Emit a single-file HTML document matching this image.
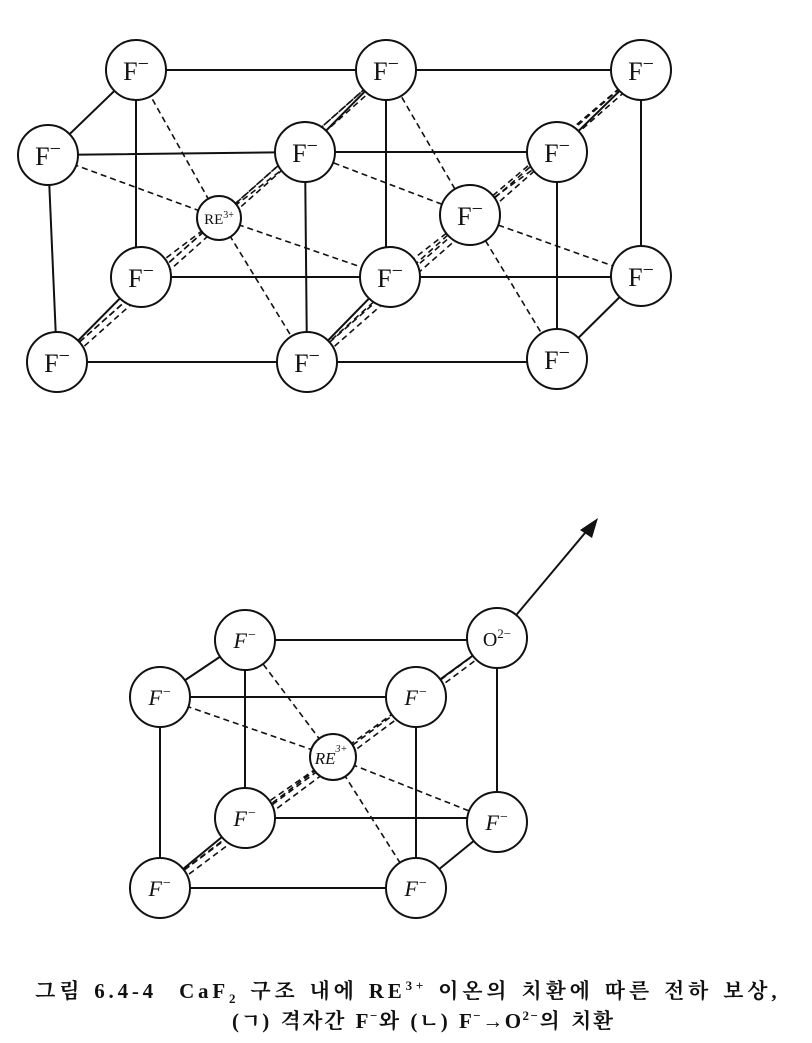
<!DOCTYPE html>
<html><head><meta charset="utf-8"><style>
body{margin:0;background:#fff;width:812px;height:1043px;overflow:hidden}
svg text{font-family:"Liberation Serif","Noto Serif CJK SC",serif}
.cap{position:absolute;font-family:"Liberation Serif","Noto Serif CJK SC",serif;font-weight:bold;font-size:21px;color:#111;white-space:nowrap;letter-spacing:3px}
</style></head><body>
<svg width="812" height="1043" style="position:absolute;left:0;top:0">
<g stroke="#111" stroke-width="2" fill="none">
<path d="M136 70H641 M48 155L305 152L557 152 M141 277H641 M57 362H557
M136 70L48 155 M386 70L305 152 M641 70L557 152
M141 277L57 362 M390 277L307 362 M641 276L557 359
M136 70V277 M386 70V277 M641 70V276 M48 155L57 362 M305 152L307 362 M557 152V359"/>
<path d="M245 640H497 M160 697H416 M245 818H497 M160 888H416
M245 640L160 697 M497 638L416 697 M245 818L160 888 M497 822L416 888
M245 640V818 M497 638V822 M160 697V888 M416 697V888"/>
</g>
<g stroke="#111" stroke-width="1.6" fill="none" stroke-dasharray="6,4">
<path d="M219 218L136 70 M219 218L386 70 M219 218L48 155 M219 218L305 152 M219 218L141 277 M219 218L390 277 M219 218L57 362 M219 218L307 362"/>
<path d="M57 362L386 70 M62 366L390 74"/>
<path d="M470 215L386 70 M470 215L641 70 M470 215L305 152 M470 215L557 152 M470 215L390 277 M470 215L641 276 M470 215L307 362 M470 215L557 359"/>
<path d="M307 362L641 70 M312 366L645 74"/>
<path d="M333 757L245 640 M333 757L497 638 M333 757L160 697 M333 757L416 697 M333 757L245 818 M333 757L497 822 M333 757L160 888 M333 757L416 888"/>
<path d="M160 888L497 638 M165 892L500 642"/>
</g>
<line x1="497" y1="638" x2="590" y2="527" stroke="#111" stroke-width="2"/>
<polygon points="598,518 580,530 592,538" fill="#111"/>
<g fill="#fff" stroke="#111" stroke-width="2">
<circle cx="136" cy="70" r="30"/><circle cx="386" cy="70" r="30"/><circle cx="641" cy="70" r="30"/>
<circle cx="48" cy="155" r="30"/><circle cx="305" cy="152" r="30"/><circle cx="557" cy="152" r="30"/>
<circle cx="219" cy="218" r="22"/><circle cx="470" cy="215" r="30"/>
<circle cx="141" cy="277" r="30"/><circle cx="390" cy="277" r="30"/><circle cx="641" cy="276" r="30"/>
<circle cx="57" cy="362" r="30"/><circle cx="307" cy="362" r="30"/><circle cx="557" cy="359" r="30"/>
<circle cx="245" cy="640" r="30"/><circle cx="497" cy="638" r="30"/><circle cx="160" cy="697" r="30"/><circle cx="416" cy="697" r="30"/>
<circle cx="333" cy="757" r="23"/>
<circle cx="245" cy="818" r="30"/><circle cx="497" cy="822" r="30"/><circle cx="160" cy="888" r="30"/><circle cx="416" cy="888" r="30"/>
</g>
<g fill="#111" font-size="26" text-anchor="middle">
<text x="136" y="80">F<tspan dy="-10" font-size="20">−</tspan></text>
<text x="386" y="80">F<tspan dy="-10" font-size="20">−</tspan></text>
<text x="641" y="80">F<tspan dy="-10" font-size="20">−</tspan></text>
<text x="48" y="165">F<tspan dy="-10" font-size="20">−</tspan></text>
<text x="305" y="162">F<tspan dy="-10" font-size="20">−</tspan></text>
<text x="557" y="162">F<tspan dy="-10" font-size="20">−</tspan></text>
<text x="470" y="225">F<tspan dy="-10" font-size="20">−</tspan></text>
<text x="141" y="287">F<tspan dy="-10" font-size="20">−</tspan></text>
<text x="390" y="287">F<tspan dy="-10" font-size="20">−</tspan></text>
<text x="641" y="286">F<tspan dy="-10" font-size="20">−</tspan></text>
<text x="57" y="372">F<tspan dy="-10" font-size="20">−</tspan></text>
<text x="307" y="372">F<tspan dy="-10" font-size="20">−</tspan></text>
<text x="557" y="369">F<tspan dy="-10" font-size="20">−</tspan></text>
<text x="219" y="224" font-size="15">RE<tspan dy="-6" font-size="10">3+</tspan></text>
</g>
<g fill="#111" font-size="22" font-style="italic" text-anchor="middle">
<text x="245" y="648">F<tspan dy="-9" font-size="14">−</tspan></text>
<text x="497" y="646" font-style="normal" font-size="20">O<tspan dy="-8" font-size="13">2−</tspan></text>
<text x="160" y="705">F<tspan dy="-9" font-size="14">−</tspan></text>
<text x="416" y="705">F<tspan dy="-9" font-size="14">−</tspan></text>
<text x="331" y="764" font-size="17">RE<tspan dy="-12" font-size="10">3+</tspan></text>
<text x="245" y="826">F<tspan dy="-9" font-size="14">−</tspan></text>
<text x="497" y="830">F<tspan dy="-9" font-size="14">−</tspan></text>
<text x="160" y="896">F<tspan dy="-9" font-size="14">−</tspan></text>
<text x="416" y="896">F<tspan dy="-9" font-size="14">−</tspan></text>
</g>
</svg>
<div class="cap" style="top:975px;left:35px;letter-spacing:3.8px;word-spacing:2px">그림 6.4-4&nbsp; CaF<sub style="font-size:13px">2</sub> 구조 내에 RE<sup style="font-size:13px">3+</sup> 이온의 치환에 따른 전하 보상,</div>
<div class="cap" style="top:1005px;left:232px;letter-spacing:1.5px;word-spacing:3px">(ㄱ) 격자간 F<sup style="font-size:13px">−</sup>와 (ㄴ) F<sup style="font-size:13px">−</sup>→O<sup style="font-size:13px">2−</sup>의 치환</div>
</body></html>
